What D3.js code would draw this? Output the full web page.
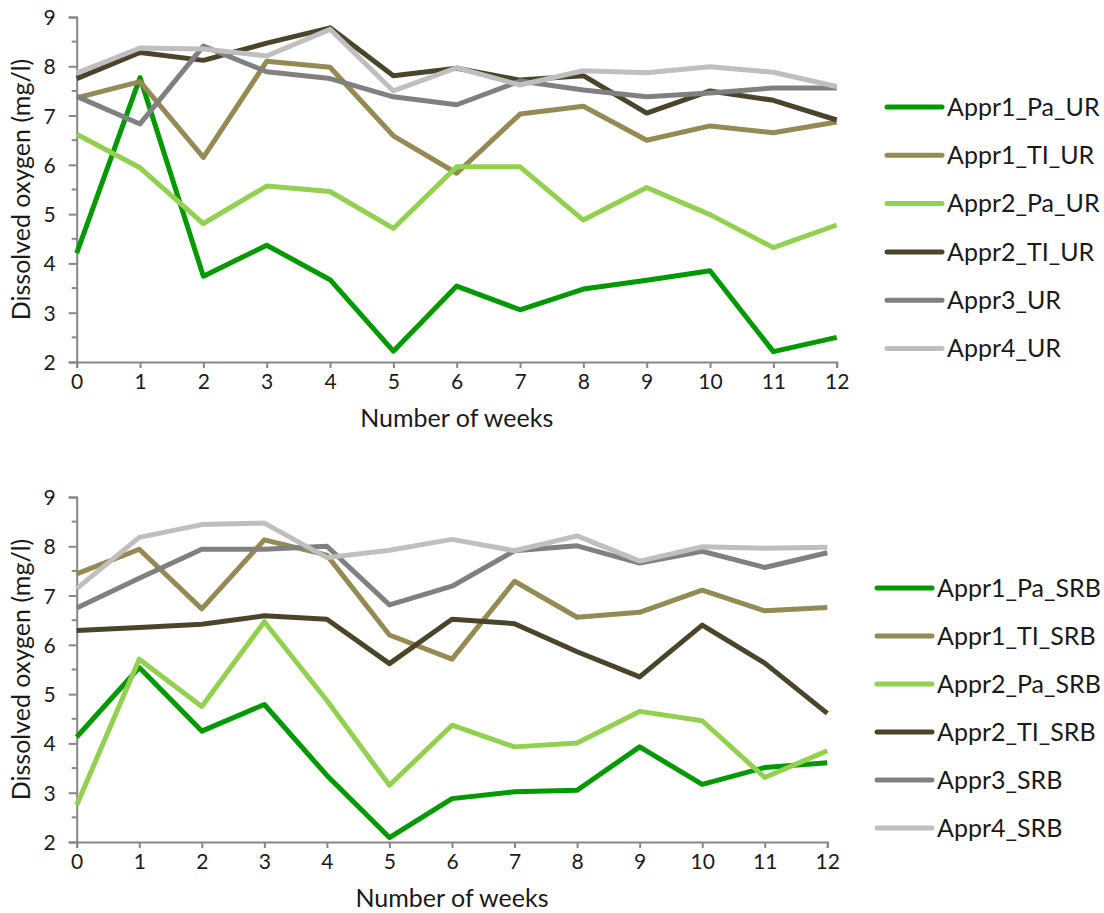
<!DOCTYPE html>
<html>
<head>
<meta charset="utf-8">
<script src="https://cdn.jsdelivr.net/npm/d3@7"></script>
<style>
  html, body { margin: 0; padding: 0; background: #ffffff; }
  svg { display: block; }
  text { font-family: Lato, "Open Sans", sans-serif; fill: #1a1a1a; }
</style>
</head>
<body>
<svg id="chart" width="1104" height="913"></svg>
<script>
// ---------- data ----------
const weeks = [0, 1, 2, 3, 4, 5, 6, 7, 8, 9, 10, 11, 12];
const yTicks = [2, 3, 4, 5, 6, 7, 8, 9];

const seriesNamesUR  = ["Appr1_Pa_UR", "Appr1_TI_UR", "Appr2_Pa_UR", "Appr2_TI_UR", "Appr3_UR", "Appr4_UR"];
const seriesNamesSRB = ["Appr1_Pa_SRB", "Appr1_TI_SRB", "Appr2_Pa_SRB", "Appr2_TI_SRB", "Appr3_SRB", "Appr4_SRB"];
const seriesColors = ["#009900", "#948A54", "#92D050", "#4A452A", "#808080", "#BFBFBF"];

const appr1PaUR  = [4.21, 7.77, 3.74, 4.37, 3.67, 2.22, 3.54, 3.06, 3.48, 3.66, 3.85, 2.21, 2.50];
const appr1TiUR  = [7.36, 7.69, 6.15, 8.10, 7.98, 6.59, 5.83, 7.03, 7.19, 6.50, 6.79, 6.65, 6.87];
const appr2PaUR  = [6.62, 5.94, 4.81, 5.57, 5.46, 4.71, 5.96, 5.96, 4.88, 5.54, 4.99, 4.32, 4.78];
const appr2TiUR  = [7.75, 8.28, 8.12, 8.47, 8.78, 7.81, 7.96, 7.72, 7.81, 7.05, 7.50, 7.31, 6.91];
const appr3UR    = [7.39, 6.83, 8.41, 7.89, 7.75, 7.38, 7.22, 7.70, 7.52, 7.38, 7.46, 7.56, 7.56];
const appr4UR    = [7.86, 8.37, 8.35, 8.21, 8.75, 7.50, 7.97, 7.62, 7.91, 7.87, 7.99, 7.88, 7.59];

const appr1PaSRB = [4.13, 5.54, 4.25, 4.79, 3.35, 2.09, 2.88, 3.02, 3.05, 3.93, 3.17, 3.51, 3.61];
const appr1TiSRB = [7.44, 7.94, 6.73, 8.13, 7.82, 6.20, 5.71, 7.29, 6.56, 6.66, 7.11, 6.69, 6.76];
const appr2PaSRB = [2.75, 5.71, 4.75, 6.47, 4.87, 3.15, 4.37, 3.93, 4.01, 4.65, 4.46, 3.31, 3.85];
const appr2TiSRB = [6.29, 6.35, 6.42, 6.59, 6.52, 5.62, 6.52, 6.43, 5.86, 5.35, 6.40, 5.63, 4.61];
const appr3SRB   = [6.75, 7.35, 7.94, 7.94, 8.00, 6.81, 7.19, 7.91, 8.01, 7.66, 7.90, 7.57, 7.87];
const appr4SRB   = [7.14, 8.18, 8.44, 8.47, 7.77, 7.92, 8.14, 7.91, 8.21, 7.70, 7.99, 7.96, 7.98];

const xTitle = "Number of weeks";
const yTitle = "Dissolved oxygen (mg/l)";

// ---------- drawing ----------
const svg = d3.select("#chart");
const axisColor = "#868686";

function drawPanel(cfg) {
  const x = d3.scaleLinear().domain([0, 12]).range([cfg.x0, cfg.x1]);
  const y = d3.scaleLinear().domain([2, 9]).range([cfg.yBottom, cfg.yTop]);
  const g = svg.append("g");

  // y axis with major ticks
  const yAxis = g.append("g")
    .attr("transform", `translate(${cfg.x0},0)`)
    .call(d3.axisLeft(y).tickValues(yTicks).tickSize(8).tickPadding(13).tickFormat(d3.format("d")));
  // minor ticks at halves
  g.append("g").selectAll("line")
    .data(d3.range(2.5, 9, 1))
    .join("line")
    .attr("x1", cfg.x0 - 5).attr("x2", cfg.x0)
    .attr("y1", d => y(d)).attr("y2", d => y(d))
    .attr("stroke", axisColor).attr("stroke-width", 2);

  // x axis
  const xAxis = g.append("g")
    .attr("transform", `translate(0,${cfg.yBottom})`)
    .call(d3.axisBottom(x).tickValues(weeks).tickSize(6).tickPadding(6).tickFormat(d3.format("d")));

  [yAxis, xAxis].forEach(a => {
    a.select(".domain").attr("stroke", axisColor).attr("stroke-width", 2);
    a.selectAll(".tick line").attr("stroke", axisColor).attr("stroke-width", 2);
    a.selectAll(".tick text").style("font-family", "Lato, sans-serif").style("font-size", "21px").attr("fill", "#1a1a1a");
  });
  yAxis.selectAll(".tick text").attr("dy", "0.36em");

  // series lines
  const line = d3.line().x((d, i) => x(weeks[i])).y(d => y(d));
  cfg.series.forEach((s, i) => {
    g.append("path")
      .datum(s)
      .attr("d", line)
      .attr("fill", "none")
      .attr("stroke", seriesColors[i])
      .attr("stroke-width", 5)
      .attr("stroke-linejoin", "round");
  });

  // axis titles
  g.append("text")
    .attr("x", (cfg.x0 + cfg.x1) / 2)
    .attr("y", cfg.yBottom + 65)
    .attr("text-anchor", "middle")
    .style("font-size", "25px")
    .text(xTitle);
  g.append("text")
    .attr("transform", `translate(30,${(cfg.yTop + cfg.yBottom) / 2}) rotate(-90)`)
    .attr("text-anchor", "middle")
    .style("font-size", "25px")
    .text(yTitle);

  // legend
  const lg = g.append("g");
  cfg.names.forEach((name, i) => {
    const ly = cfg.legendY0 + i * cfg.legendStep;
    lg.append("line")
      .attr("x1", cfg.legendX).attr("x2", cfg.legendX + 55)
      .attr("y1", ly).attr("y2", ly)
      .attr("stroke", seriesColors[i])
      .attr("stroke-width", 5)
      .attr("stroke-linecap", "round");
    lg.append("text")
      .attr("x", cfg.legendX + 60)
      .attr("y", ly)
      .attr("dy", "0.35em")
      .style("font-size", "25px")
      .text(name);
  });
}

drawPanel({
  x0: 76.7, x1: 836.7, yTop: 17, yBottom: 362,
  series: [appr1PaUR, appr1TiUR, appr2PaUR, appr2TiUR, appr3UR, appr4UR],
  names: seriesNamesUR,
  legendX: 887, legendY0: 107, legendStep: 48.3
});

drawPanel({
  x0: 76.7, x1: 827.3, yTop: 497, yBottom: 842,
  series: [appr1PaSRB, appr1TiSRB, appr2PaSRB, appr2TiSRB, appr3SRB, appr4SRB],
  names: seriesNamesSRB,
  legendX: 877, legendY0: 588, legendStep: 48
});
</script>
</body>
</html>
